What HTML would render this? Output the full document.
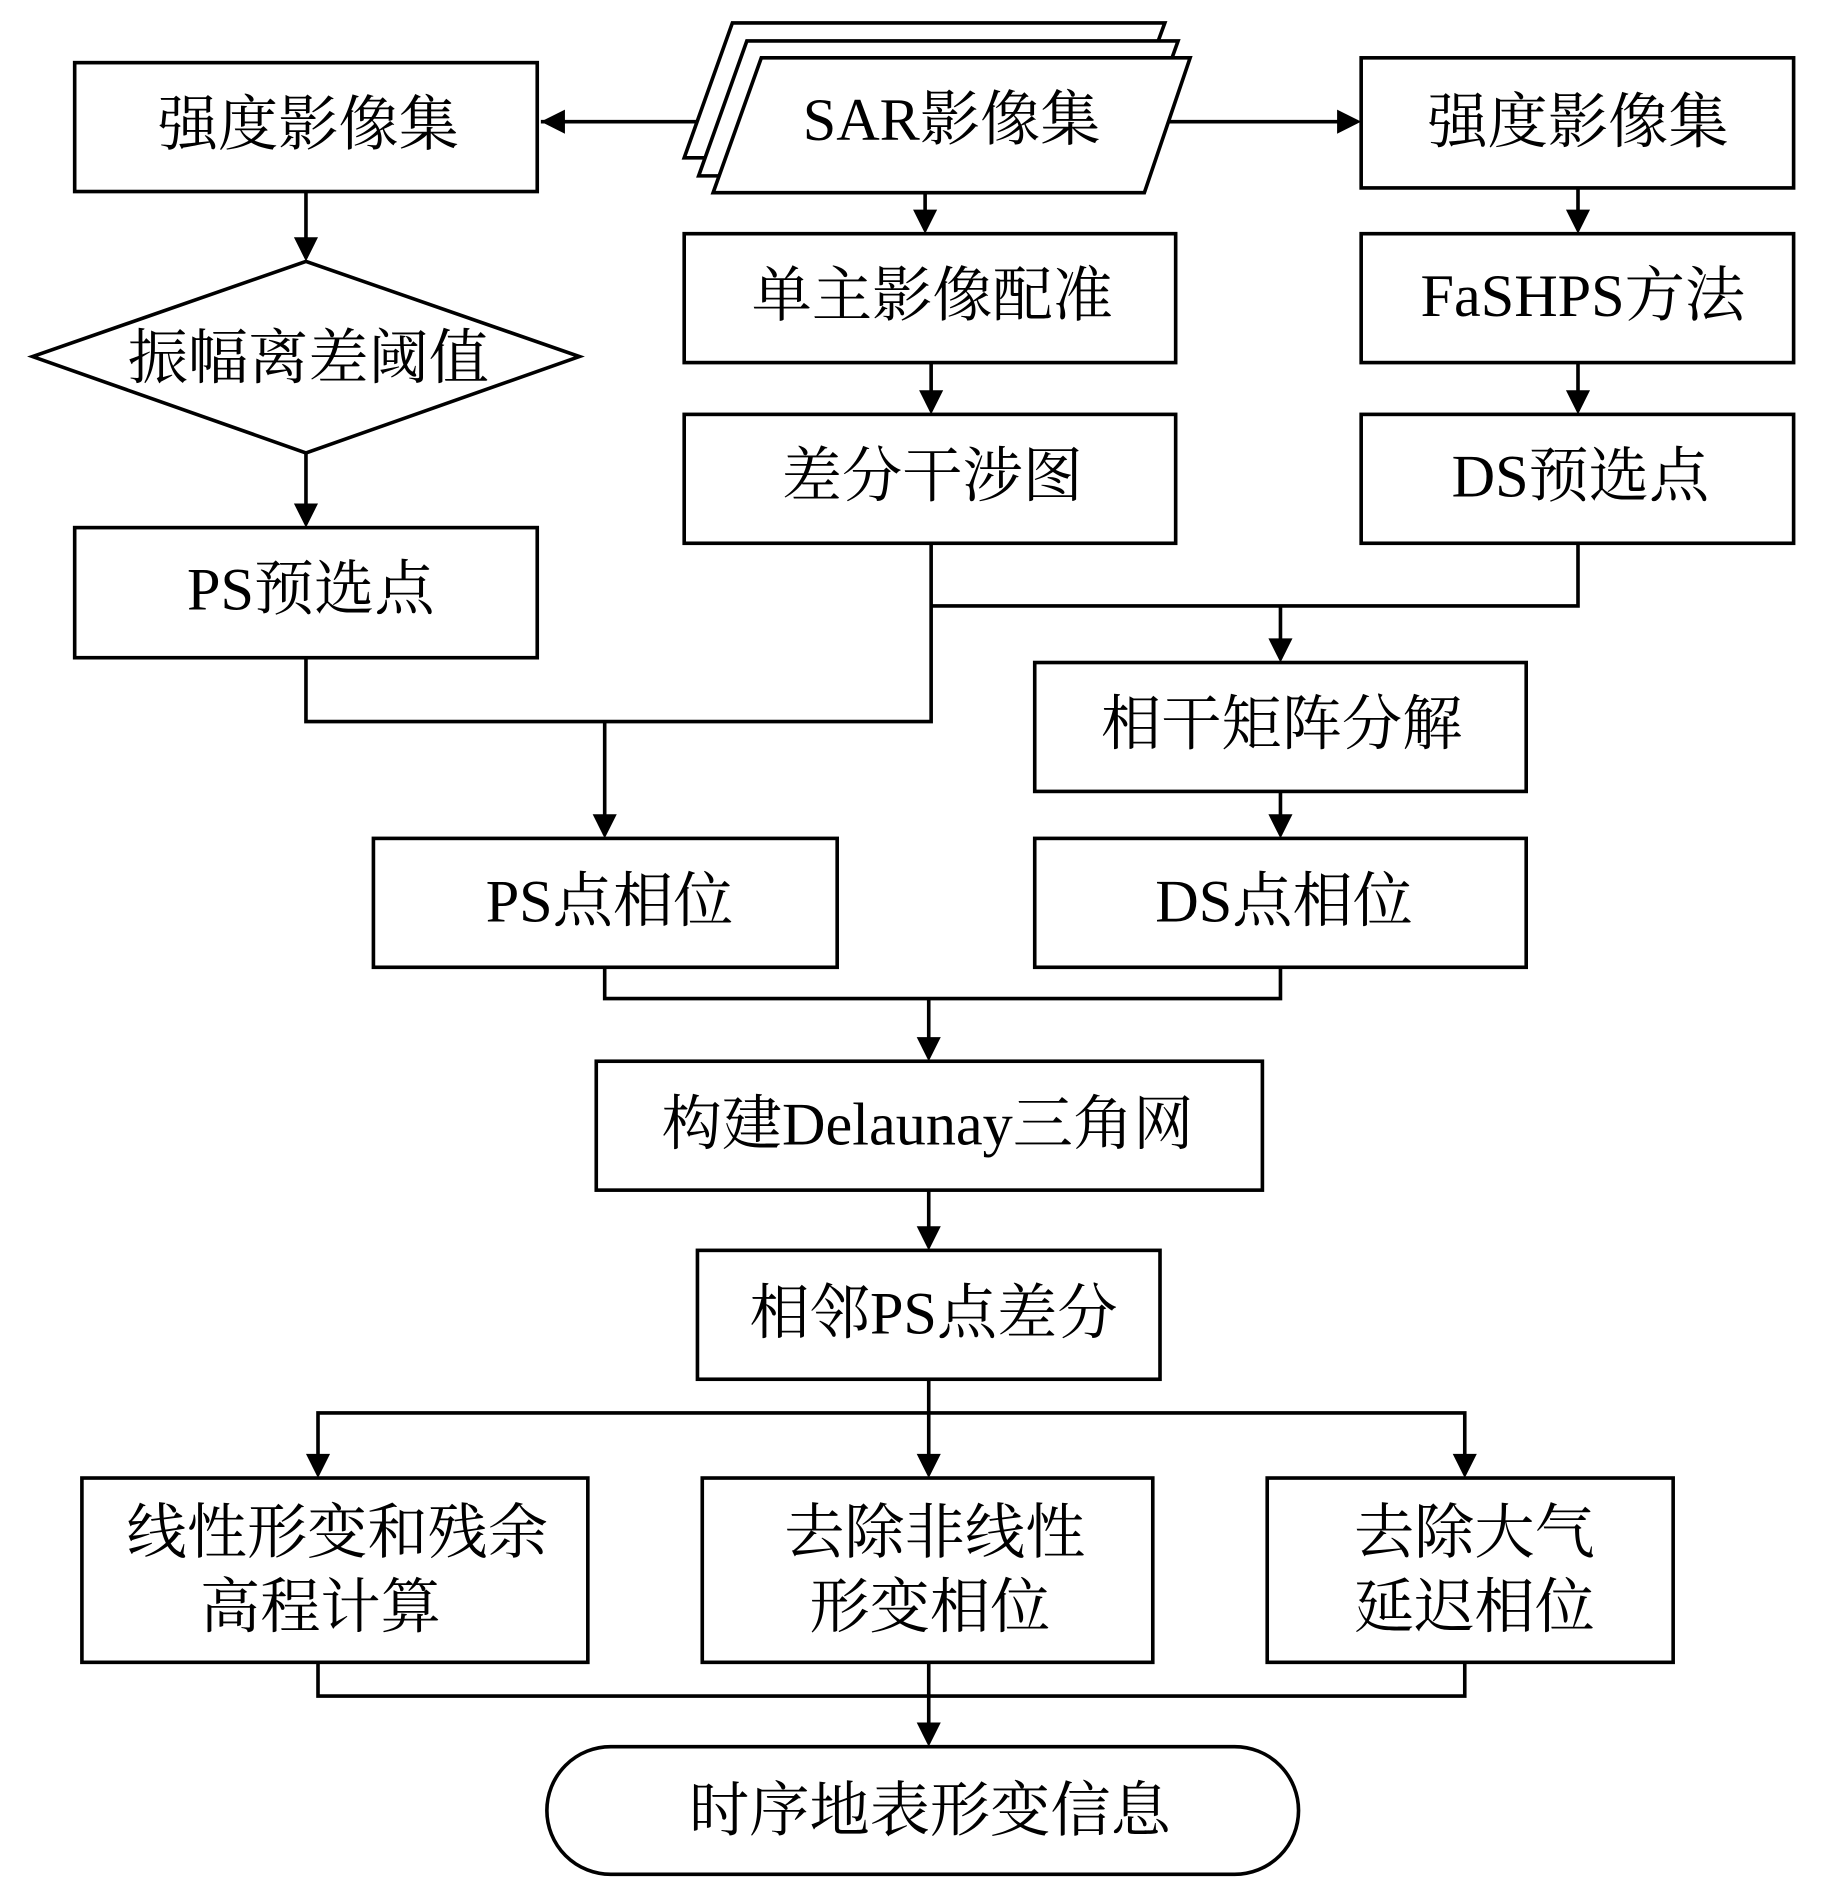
<!DOCTYPE html>
<html><head><meta charset="utf-8"><style>
html,body{margin:0;padding:0;background:#fff;}
svg{display:block;}
text{font-family:"Liberation Serif","Noto Serif CJK SC",serif;font-size:50px;fill:#000;text-anchor:middle;dominant-baseline:central;}
</style></head><body>
<svg width="1843" height="1890" viewBox="0 0 1530 1569" xmlns="http://www.w3.org/2000/svg">
<defs><marker id="a" markerWidth="8" markerHeight="8" refX="7" refY="4" orient="auto" markerUnits="userSpaceOnUse" viewBox="0 0 8 8"><path d="M0,0 L8,4 L0,8 z" fill="#000"/></marker></defs>
<g stroke="#000" stroke-width="3" fill="none">
<!-- connectors -->
<g>
<path d="M590,101 H449"/><path d="M968,101 H1127"/>
<path d="M768,160 V191"/><path d="M773,301 V341"/>
<path d="M1310,156 V191"/><path d="M1310,301 V341"/>
<path d="M254,159 V214"/><path d="M254,376 V435"/>
<path d="M254,546 V599 H773 V451"/><path d="M502,599 V693"/>
<path d="M773,503 H1310 V451"/><path d="M1063,503 V547"/>
<path d="M1063,657 V693"/>
<path d="M502,803 V829 H1063 V803"/><path d="M771,829 V878"/>
<path d="M771,988 V1035"/>
<path d="M771,1145 V1224"/><path d="M264,1224 V1173 H1216 V1224"/>
<path d="M264,1380 V1408 H1216 V1380"/><path d="M771,1380 V1447"/>
</g>
<!-- arrowheads -->
<g fill="#000" stroke="none">
<path d="M449,101 l20,-10 v20z"/><path d="M1130,101 l-20,-10 v20z"/>
<path d="M768,194 l-10,-20 h20z"/><path d="M773,344 l-10,-20 h20z"/>
<path d="M1310,194 l-10,-20 h20z"/><path d="M1310,344 l-10,-20 h20z"/>
<path d="M254,217 l-10,-20 h20z"/><path d="M254,438 l-10,-20 h20z"/>
<path d="M502,696 l-10,-20 h20z"/><path d="M1063,550 l-10,-20 h20z"/>
<path d="M1063,696 l-10,-20 h20z"/><path d="M771,881 l-10,-20 h20z"/>
<path d="M771,1038 l-10,-20 h20z"/>
<path d="M264,1227 l-10,-20 h20z"/><path d="M771,1227 l-10,-20 h20z"/><path d="M1216,1227 l-10,-20 h20z"/>
<path d="M771,1450 l-10,-20 h20z"/>
</g>
<!-- SAR stack -->
<path d="M608,19 H967 L926,131 H568 Z" fill="#fff"/>
<path d="M620,34 H978 L938,146 H580 Z" fill="#fff"/>
<path d="M632,48 H988 L950,160 H592 Z" fill="#fff"/>
<!-- boxes -->
<rect x="62" y="52" width="384" height="107" fill="#fff"/>
<rect x="1130" y="48" width="359" height="108"/>
<rect x="568" y="194" width="408" height="107"/>
<rect x="568" y="344" width="408" height="107"/>
<rect x="1130" y="194" width="359" height="107"/>
<rect x="1130" y="344" width="359" height="107"/>
<path d="M27,296 L254,217 L481,296 L254,376 Z"/>
<rect x="62" y="438" width="384" height="108"/>
<rect x="859" y="550" width="408" height="107"/>
<rect x="310" y="696" width="385" height="107"/>
<rect x="859" y="696" width="408" height="107"/>
<rect x="495" y="881" width="553" height="107"/>
<rect x="579" y="1038" width="384" height="107"/>
<rect x="68" y="1227" width="420" height="153"/>
<rect x="583" y="1227" width="374" height="153"/>
<rect x="1052" y="1227" width="337" height="153"/>
<rect x="454" y="1450" width="624" height="106" rx="53" ry="53"/>
</g>
<text x="790" y="100">SAR影像集</text>
<text x="256" y="104">强度影像集</text>
<text x="1310" y="102">强度影像集</text>
<text x="774" y="246">单主影像配准</text>
<text x="774" y="396">差分干涉图</text>
<text x="1314" y="246">FaSHPS方法</text>
<text x="1312" y="396">DS预选点</text>
<text x="256" y="298">振幅离差阈值</text>
<text x="258" y="490">PS预选点</text>
<text x="1064" y="602">相干矩阵分解</text>
<text x="506" y="749">PS点相位</text>
<text x="1066" y="749">DS点相位</text>
<text x="770" y="934">构建Delaunay三角网</text>
<text x="775" y="1091">相邻PS点差分</text>
<text x="280" y="1273">线性形变和残余</text>
<text x="266" y="1335">高程计算</text>
<text x="776" y="1273">去除非线性</text>
<text x="772" y="1335">形变相位</text>
<text x="1224" y="1273">去除大气</text>
<text x="1224" y="1335">延迟相位</text>
<text x="772" y="1504">时序地表形变信息</text>
</svg>
</body></html>
